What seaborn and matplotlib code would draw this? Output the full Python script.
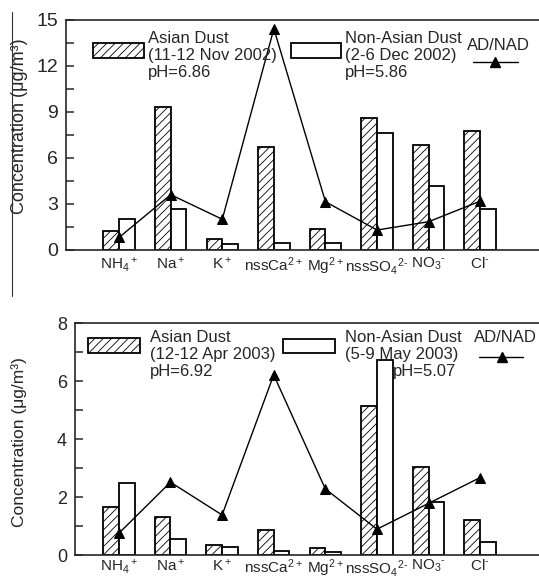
import numpy as np
import pandas as pd
import matplotlib
matplotlib.use("Agg")
import matplotlib.pyplot as plt
from matplotlib.patches import Rectangle
from matplotlib.lines import Line2D
from matplotlib.ticker import MultipleLocator
import seaborn as sns

# ---------------- data ----------------
ions = ["NH$_4$$^+$", "Na$^+$", "K$^+$", r"nssCa$^{2+}$", r"Mg$^{2+}$",
        r"nssSO$_4$$^{2\text{-}}$", r"NO$_3$$^{\text{-}}$", r"Cl$^{\text{-}}$"]

ad_2002 = [1.26, 9.31, 0.71, 6.69, 1.34, 8.59, 6.84, 7.75]
nad_2002 = [2.01, 2.70, 0.39, 0.45, 0.45, 7.60, 4.16, 2.64]
ratio_2002 = [0.82, 3.60, 2.00, 14.40, 3.14, 1.30, 1.84, 3.18]

ad_2003 = [1.65, 1.30, 0.33, 0.86, 0.23, 5.14, 3.03, 1.21]
nad_2003 = [2.47, 0.54, 0.26, 0.14, 0.09, 6.71, 1.83, 0.46]
ratio_2003 = [0.75, 2.51, 1.38, 6.21, 2.28, 0.89, 1.78, 2.67]

groups = ["AD", "NAD"]
ylabel = "Concentration (μg/m³)"

# ---------------- style ----------------
sns.set_style("white")
plt.rcParams["font.family"] = ["Liberation Sans", "DejaVu Sans"]
plt.rcParams["mathtext.fontset"] = "custom"
plt.rcParams["mathtext.rm"] = "Liberation Sans"
plt.rcParams["mathtext.it"] = "Liberation Sans:italic"
plt.rcParams["mathtext.bf"] = "Liberation Sans:bold"
plt.rcParams["mathtext.default"] = "regular"
plt.rcParams["hatch.linewidth"] = 0.6
plt.rcParams["axes.linewidth"] = 1.2

W, H = 539, 578
fig = plt.figure(figsize=(W / 100, H / 100), dpi=100)


def fx(x):
    return x / W


def fy(y):
    return 1 - y / H


def panel(rect, ad, nad, ratio, ylim, major, minor, xlim, ytick_size,
          label_xy, label_size, xpad):
    ax = fig.add_axes(rect)
    df = pd.DataFrame({
        "ion": ions * 2,
        "sample": [groups[0]] * len(ions) + [groups[1]] * len(ions),
        "value": list(ad) + list(nad),
    })
    sns.barplot(data=df, x="ion", y="value", hue="sample", order=ions,
                hue_order=groups, palette=["white", "white"],
                edgecolor="black", linewidth=1.3, width=0.61, gap=0,
                saturation=1, legend=False, ax=ax)
    for bar in ax.containers[0]:
        bar.set_hatch("////")
    rdf = pd.DataFrame({"ion": ions, "ratio": ratio})
    sns.pointplot(data=rdf, x="ion", y="ratio", order=ions, color="black",
                  markers="^", linestyles="-", errorbar=None,
                  markersize=6.5, linewidth=1.0, ax=ax)
    for ln in ax.lines:
        ln.set_zorder(5)
    ax.set_xlim(*xlim)
    ax.set_ylim(*ylim)
    ax.yaxis.set_major_locator(MultipleLocator(major))
    ax.yaxis.set_minor_locator(MultipleLocator(minor))
    ax.tick_params(axis="y", which="both", direction="in", length=5.8,
                   width=1.1, pad=5.8, labelsize=ytick_size, left=True)
    ax.tick_params(axis="x", length=0, pad=xpad, labelsize=11)
    ax.spines["right"].set_visible(False)
    ax.set_xlabel("")
    ax.set_ylabel(ylabel, fontsize=label_size)
    ax.yaxis.set_label_coords(*label_xy)
    ax.yaxis.label.set_va("center")
    return ax


# top panel
ax1 = panel([fx(66), fy(250), fx(539 - 66), (250 - 19.5) / H],
            ad_2002, nad_2002, ratio_2002, (0, 15), 3, 1.5,
            (-1.03, 8.14), 14, (-0.098, 0.536), 13, 4)
# bottom panel
ax2 = panel([fx(75), fy(555), fx(539 - 75), (555 - 323) / H],
            ad_2003, nad_2003, ratio_2003, (0, 8), 2, 1,
            (-0.85, 8.14), 13, (-0.12, 0.487), 12.5, 2)


# ---------------- legends (manual, as in the original) ----------------
def legend_block(box_ad, box_nad, ad_lines, nad_lines, ad_x, nad_x, nad_x3,
                 baselines, ratio_text_xy, ratio_line):
    x0, y0, x1, y1 = box_ad
    fig.add_artist(Rectangle((fx(x0), fy(y1)), fx(x1 - x0), (y1 - y0) / H,
                             transform=fig.transFigure, facecolor="white",
                             edgecolor="black", linewidth=1.3, hatch="////"))
    x0, y0, x1, y1 = box_nad
    fig.add_artist(Rectangle((fx(x0), fy(y1)), fx(x1 - x0), (y1 - y0) / H,
                             transform=fig.transFigure, facecolor="white",
                             edgecolor="black", linewidth=1.3))
    for s, b in zip(ad_lines, baselines):
        fig.text(fx(ad_x), fy(b), s, fontsize=12, va="baseline", ha="left")
    for i, (s, b) in enumerate(zip(nad_lines, baselines)):
        xx = nad_x3 if i == 2 else nad_x
        fig.text(fx(xx), fy(b), s, fontsize=12, va="baseline", ha="left")
    tx, tb = ratio_text_xy
    fig.text(fx(tx), fy(tb), "AD/NAD", fontsize=12, va="baseline", ha="center")
    lx0, lx1, ly, mx = ratio_line
    fig.add_artist(Line2D([fx(lx0), fx(lx1)], [fy(ly), fy(ly)],
                          transform=fig.transFigure, color="black", lw=1.0))
    fig.add_artist(Line2D([fx(mx)], [fy(ly)], transform=fig.transFigure,
                          color="black", marker="^", markersize=6.5, lw=0))


legend_block((93, 43, 144, 58), (291, 43, 341, 58),
             ["Asian Dust", "(11-12 Nov 2002)", "pH=6.86"],
             ["Non-Asian Dust", "(2-6 Dec 2002)", "pH=5.86"],
             148, 345, 345, (43, 60, 77), (498, 50), (473, 518, 62, 495))

legend_block((88, 338, 140, 353), (283, 339, 335, 353),
             ["Asian Dust", "(12-12 Apr 2003)", "pH=6.92"],
             ["Non-Asian Dust", "(5-9 May 2003)", "pH=5.07"],
             150, 345, 393, (342, 359, 376), (505, 342), (479, 523, 357, 502))

# stray vertical rule at the left edge of the original page
fig.add_artist(Line2D([fx(12), fx(12)], [fy(12), fy(296)],
                      transform=fig.transFigure, color="#333333", lw=0.8))

fig.savefig("out.png", dpi=100)
